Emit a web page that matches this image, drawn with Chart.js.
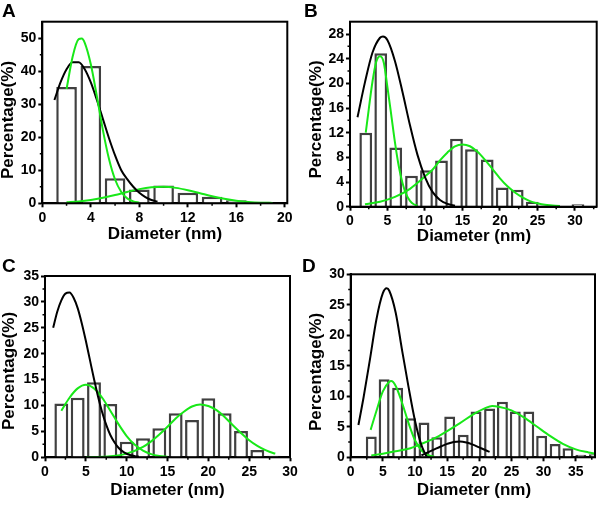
<!DOCTYPE html>
<html>
<head>
<meta charset="utf-8">
<script src="https://cdn.jsdelivr.net/npm/chart.js@4.4.1/dist/chart.umd.min.js"></script>
<style>
  body { margin: 0; background: #fff; width: 600px; height: 505px; position: relative; overflow: hidden;
         font-family: "Liberation Sans", Arial, sans-serif; }
  canvas { position: absolute; }
  .tag { position: absolute; font-weight: bold; font-size: 19px; line-height: 19px; color: #000; }
</style>
</head>
<body>
<canvas id="cA" width="300" height="252" style="left:0;top:0"></canvas>
<canvas id="cB" width="300" height="252" style="left:300px;top:0"></canvas>
<canvas id="cC" width="300" height="253" style="left:0;top:252px"></canvas>
<canvas id="cD" width="300" height="253" style="left:300px;top:252px"></canvas>
<div class="tag" style="left:2px;top:1px">A</div>
<div class="tag" style="left:304px;top:1px">B</div>
<div class="tag" style="left:2px;top:256px">C</div>
<div class="tag" style="left:302px;top:256px">D</div>
<script>
// ---- panel A ----
const binsA = [2, 4, 6, 8, 10, 12, 14, 16, 18];
const pctA = [35.2, 41.6, 7.6, 4.2, 5.4, 3.2, 2.0, 0.9, 0.5];
const blackA_x = [1, 1.5, 2, 2.5, 3, 3.5, 4, 4.5, 5, 5.5, 6, 6.5, 7, 7.5, 8, 8.5, 9, 9.5];
const blackA_y = [31.3, 36.6, 40.6, 42.7, 42.7, 40.6, 36.6, 31.3, 25.5, 19.7, 14.5, 10.1, 7.3, 5.0, 3.2, 1.9, 1.0, 0.5];
const greenA1_x = [2, 2.5, 3, 3.25, 3.5, 4, 4.5, 5, 5.5, 6, 6.5, 7, 7.5, 8];
const greenA1_y = [34.6, 44.4, 49.7, 49.9, 48.6, 42.1, 32.4, 22.1, 13.4, 7.2, 3.5, 1.5, 0.6, 0.2];
const greenA2_x = [2, 3, 4, 5, 6, 7, 8, 9, 10, 11, 12, 13, 14, 15, 16, 17, 18, 19];
const greenA2_y = [0.3, 0.55, 1.0, 1.67, 2.5, 3.44, 4.29, 4.85, 5.0, 4.67, 3.97, 3.07, 2.16, 1.38, 0.8, 0.42, 0.2, 0.1];

// ---- panel B ----
const binsB = [2.1, 4.1, 6.1, 8.2, 10.2, 12.2, 14.2, 16.2, 18.3, 20.3, 22.3, 24.3, 30.4];
const pctB = [12.0, 24.9, 9.6, 5.0, 5.9, 7.5, 11.0, 9.3, 7.65, 3.1, 2.75, 0.8, 0.4];
const blackB_x = [1, 2, 3, 4, 4.4, 5, 6, 7, 8, 9, 10, 11, 12, 13, 14];
const blackB_y = [14.5, 20.2, 25.0, 27.4, 27.6, 27.0, 23.6, 18.6, 13.2, 8.4, 4.8, 2.4, 1.1, 0.46, 0.17];
const greenB1_x = [2.1, 2.5, 3, 3.5, 4, 4.5, 5, 5.5, 6, 6.5, 7, 7.5, 8, 8.5, 9];
const greenB1_y = [12.0, 15.8, 20.3, 23.5, 24.4, 23.4, 19.3, 14.9, 10.4, 6.6, 3.85, 2.0, 0.96, 0.4, 0.16];
const greenB2_x = [2, 4, 6, 8, 10, 11, 12, 13, 14, 15, 16, 17, 18, 19, 20, 21, 22, 23, 24, 25, 26, 27, 28];
const greenB2_y = [0.4, 0.8, 1.6, 2.9, 4.9, 6.0, 7.5, 8.8, 9.8, 10.1, 9.8, 8.9, 7.6, 6.1, 4.6, 3.3, 2.3, 1.5, 0.9, 0.55, 0.3, 0.2, 0.1];

// ---- panel C ----
const binsC = [2, 4, 6, 8, 10, 12, 14, 16, 18, 20, 22, 24, 26, 28];
const pctC = [10.4, 11.5, 14.5, 10.3, 3.0, 3.7, 5.6, 8.5, 7.2, 11.4, 8.5, 5.1, 1.4, 0.3];
const blackC_x = [1, 1.5, 2, 2.5, 3, 3.5, 4, 4.5, 5, 5.5, 6, 6.5, 7, 7.5, 8, 8.5, 9, 9.5, 10, 10.5, 11, 11.5];
const blackC_y = [25.0, 28.1, 30.3, 31.6, 31.8, 30.8, 28.8, 25.9, 22.5, 18.8, 15.1, 11.7, 8.7, 6.25, 4.3, 2.9, 1.85, 1.14, 0.68, 0.39, 0.22, 0.1];
const greenC1_x = [2, 3, 4, 5, 6, 7, 8, 9, 10, 11, 12, 13, 14, 15];
const greenC1_y = [9.0, 11.5, 13.3, 14.0, 13.3, 11.5, 9.0, 6.4, 4.1, 2.4, 1.3, 0.62, 0.27, 0.1];
const greenC2_x = [5, 6, 8, 10, 12, 13, 14, 15, 16, 17, 18, 19, 20, 21, 22, 23, 24, 25, 26, 27, 28, 28.2];
const greenC2_y = [0.02, 0.04, 0.19, 0.71, 2.0, 3.07, 4.4, 5.9, 7.5, 8.8, 9.8, 10.2, 9.9, 9.1, 7.8, 6.2, 4.7, 3.3, 2.2, 1.37, 0.79, 0.72];

// ---- panel D ----
const binsD = [3.2, 5.2, 7.3, 9.3, 11.4, 13.4, 15.4, 17.5, 19.5, 21.6, 23.6, 25.6, 27.7, 29.7, 31.8, 33.8, 35.8, 37.9];
const pctD = [3.4, 12.8, 11.4, 6.4, 5.7, 3.3, 6.7, 3.7, 7.5, 8.0, 9.1, 7.5, 7.5, 3.55, 2.2, 1.5, 0.4, 0.5];
const blackD1_x = [1.2, 2, 3, 4, 5, 5.6, 6, 7, 8, 9, 10, 11, 11.8];
const blackD1_y = [5.3, 9.8, 16.1, 22.6, 26.9, 27.7, 27.3, 23.7, 17.5, 11.5, 6.0, 2.0, 0.1];
const blackD2_x = [11, 12, 13, 14, 15, 16, 17, 18, 19, 20, 21, 21.6];
const blackD2_y = [0.3, 0.8, 1.29, 1.77, 2.2, 2.52, 2.6, 2.43, 2.08, 1.62, 1.15, 0.9];
const greenD1_x = [3.1, 4, 5, 6, 6.3, 7, 8, 9, 10, 11, 12, 13];
const greenD1_y = [4.5, 7.6, 10.8, 12.4, 12.5, 11.7, 8.9, 5.6, 2.8, 1.15, 0.4, 0.1];
const greenD2_x = [3.2, 5, 7, 9, 11, 13, 15, 17, 19, 21, 22, 23, 25, 27, 29, 31, 33, 35, 37, 38];
const greenD2_y = [0.3, 0.6, 1.0, 1.4, 2.2, 3.1, 4.3, 5.6, 7.0, 8.1, 8.4, 8.3, 7.7, 6.5, 5.0, 3.5, 2.2, 1.3, 0.8, 0.6];

const X_TITLE = 'Diameter (nm)';
const Y_TITLE = 'Percentage(%)';

const FONT = 'Liberation Sans, Arial, sans-serif';
const GREEN = 'rgb(24, 232, 24)';

const pts = (xs, ys) => xs.map((x, i) => ({ x: x, y: ys[i] }));

// box around the plot, small minor ticks, and the two axis titles
const framePlugin = {
    id: 'frame',
    afterDatasetsDraw(chart, args, opts) {
        const { ctx, chartArea: a, scales } = chart;
        ctx.save();
        ctx.strokeStyle = '#000';
        ctx.lineWidth = 2;
        ctx.strokeRect(a.left, a.top, a.right - a.left, a.bottom - a.top);
        ctx.lineWidth = 1.5;
        ctx.beginPath();
        for (let v = opts.xStep / 2; v < scales.x.max; v += opts.xStep) {
            const px = scales.x.getPixelForValue(v);
            ctx.moveTo(px, a.bottom);
            ctx.lineTo(px, a.bottom + 2.5);
        }
        for (let v = opts.yStep / 2; v < scales.y.max; v += opts.yStep) {
            const py = scales.y.getPixelForValue(v);
            ctx.moveTo(a.left, py);
            ctx.lineTo(a.left - 2.5, py);
        }
        ctx.stroke();
        ctx.restore();
    },
    afterDraw(chart, args, opts) {
        const ctx = chart.ctx;
        ctx.save();
        ctx.fillStyle = '#000';
        ctx.font = 'bold 17px ' + FONT;
        ctx.textAlign = 'center';
        ctx.textBaseline = 'middle';
        ctx.fillText(X_TITLE, opts.xTitle[0], opts.xTitle[1]);
        ctx.translate(opts.yTitle[0], opts.yTitle[1]);
        ctx.rotate(-Math.PI / 2);
        ctx.fillText(Y_TITLE, 0, 0);
        ctx.restore();
    }
};

function panel(id, p) {
    const datasets = p.curves.map(c => ({
        type: 'line',
        data: pts(c.x, c.y),
        borderColor: c.color,
        borderWidth: 2,
        pointRadius: 0,
        fill: false,
        cubicInterpolationMode: 'monotone',
        order: 1
    }));
    datasets.push({
        type: 'bar',
        data: pts(p.bins, p.pct),
        backgroundColor: '#fff',
        borderColor: '#404040',
        borderWidth: 2.5,
        barPercentage: 0.85,
        categoryPercentage: 1,
        order: 2
    });

    const tickFont = { family: FONT, size: 14, weight: 'bold' };

    new Chart(document.getElementById(id), {
        type: 'bar',
        data: { datasets: datasets },
        options: {
            responsive: false,
            animation: false,
            layout: { padding: p.pad },
            plugins: {
                legend: { display: false },
                tooltip: { enabled: false },
                frame: { xStep: p.xStep, yStep: p.yStep, xTitle: p.xTitle, yTitle: p.yTitle }
            },
            scales: {
                x: {
                    type: 'linear',
                    offset: false,
                    min: 0,
                    max: p.xMax,
                    border: { display: true, color: '#000', width: 2 },
                    grid: { offset: false, drawOnChartArea: false, drawTicks: true, tickLength: 4, tickWidth: 2, tickColor: '#000' },
                    ticks: { stepSize: p.xStep, includeBounds: false, maxRotation: 0, autoSkip: false, padding: 2, color: '#000', font: tickFont },
                    afterFit: s => { s.height = p.xH; }
                },
                y: {
                    min: 0,
                    max: p.yMax,
                    border: { display: true, color: '#000', width: 2 },
                    grid: { drawOnChartArea: false, drawTicks: true, tickLength: 4, tickWidth: 2, tickColor: '#000' },
                    ticks: { stepSize: p.yStep, includeBounds: false, padding: 2, color: '#000', font: tickFont },
                    afterFit: s => { s.width = p.yW; }
                }
            }
        },
        plugins: [framePlugin]
    });
}

panel('cA', {
    bins: binsA, pct: pctA,
    curves: [
        { x: greenA1_x, y: greenA1_y, color: GREEN },
        { x: blackA_x, y: blackA_y, color: '#000' },
        { x: greenA2_x, y: greenA2_y, color: GREEN }
    ],
    xMax: 20.2, xStep: 4, yMax: 55, yStep: 10,
    pad: { left: 0, top: 21.7, right: 12.7, bottom: 10 }, yW: 42.3, xH: 38.7,
    xTitle: [165, 234], yTitle: [8.5, 120]
});

panel('cB', {
    bins: binsB, pct: pctB,
    curves: [
        { x: greenB1_x, y: greenB1_y, color: GREEN },
        { x: blackB_x, y: blackB_y, color: '#000' },
        { x: greenB2_x, y: greenB2_y, color: GREEN }
    ],
    xMax: 32.9, xStep: 5, yMax: 30, yStep: 4,
    pad: { left: 7.5, top: 21.7, right: 3.3, bottom: 6 }, yW: 42.5, xH: 39.3,
    xTitle: [174, 236.5], yTitle: [16, 119.5]
});

panel('cC', {
    bins: binsC, pct: pctC,
    curves: [
        { x: blackC_x, y: blackC_y, color: '#000' },
        { x: greenC1_x, y: greenC1_y, color: GREEN },
        { x: greenC2_x, y: greenC2_y, color: GREEN }
    ],
    xMax: 30, xStep: 5, yMax: 35, yStep: 5,
    pad: { left: 0.5, top: 24, right: 10, bottom: 5 }, yW: 44.5, xH: 42.7,
    xTitle: [167.5, 238.5], yTitle: [9, 119]
});

panel('cD', {
    bins: binsD, pct: pctD,
    curves: [
        { x: blackD1_x, y: blackD1_y, color: '#000' },
        { x: blackD2_x, y: blackD2_y, color: '#000' },
        { x: greenD1_x, y: greenD1_y, color: GREEN },
        { x: greenD2_x, y: greenD2_y, color: GREEN }
    ],
    xMax: 38, xStep: 5, yMax: 30, yStep: 5,
    pad: { left: 7.5, top: 22.3, right: 5, bottom: 5 }, yW: 43.2, xH: 42.7,
    xTitle: [174, 238.5], yTitle: [16, 120]
});
</script>
</body>
</html>
